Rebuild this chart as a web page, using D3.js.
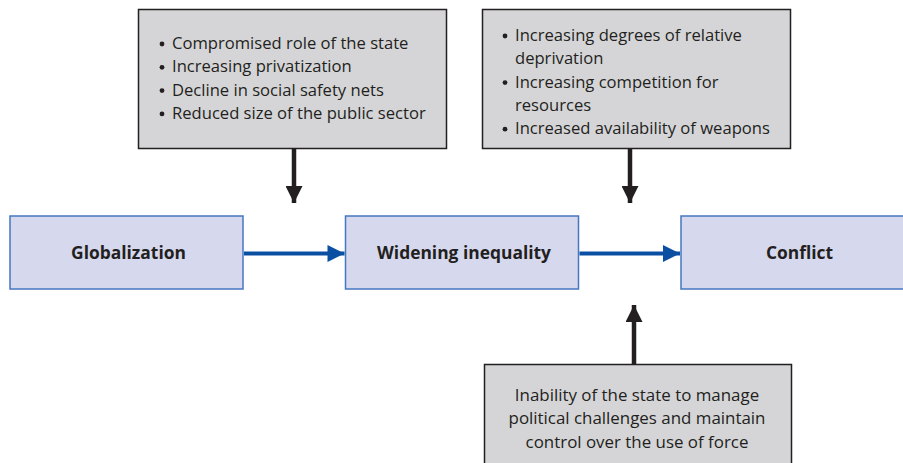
<!DOCTYPE html>
<html><head><meta charset="utf-8">
<script src="https://cdn.jsdelivr.net/npm/d3@7"></script>
<style>body{margin:0;background:#fff;} svg{display:block;}</style>
</head><body>
<svg id="c" width="903" height="463"></svg>
<script>
// ---- data ----
const mainNodes = ["Globalization", "Widening inequality", "Conflict"];
const topLeftItems = [["Compromised role of the state"], ["Increasing privatization"], ["Decline in social safety nets"], ["Reduced size of the public sector"]];
const topRightItems = [["Increasing degrees of relative", "deprivation"], ["Increasing competition for", "resources"], ["Increased availability of weapons"]];
const bottomLines = ["Inability of the state to manage", "political challenges and maintain", "control over the use of force"];

const svg = d3.select("#c");
const FONT = "'Open Sans', 'Noto Sans', sans-serif";
const TXT = "#231f20";
const FS = 16.6;
const defs = svg.append("defs");
function marker(id, color) {
  defs.append("marker").attr("id", id).attr("viewBox", "0 0 10 10")
    .attr("refX", 10).attr("refY", 5).attr("markerUnits", "userSpaceOnUse")
    .attr("markerWidth", 21).attr("markerHeight", 17).attr("orient", "auto")
    .append("path").attr("d", "M0,0L10,5L0,10Z").attr("fill", color);
}
marker("ab", "#0b4fa2");
marker("ak", "#231f20");

// main nodes
const x = d3.scalePoint().domain(mainNodes).range([126.5, 797.5]);
const bw = 233, by = 216, bh = 73;
const g = svg.append("g");
g.selectAll("rect").data(mainNodes).join("rect")
  .attr("x", d => x(d) - bw / 2).attr("y", by).attr("width", bw).attr("height", bh)
  .attr("fill", "#d6d8ee").attr("stroke", "#4577c0").attr("stroke-width", 1.5);
g.selectAll("text").data(mainNodes).join("text")
  .attr("x", d => x(d) + 2).attr("y", by + bh / 2 + 6.5).attr("text-anchor", "middle")
  .attr("font-family", FONT).attr("font-weight", "bold").attr("font-size", 17.4)
  .attr("fill", TXT).text(d => d);
// blue arrows
for (let i = 0; i < mainNodes.length - 1; i++) {
  svg.append("line")
    .attr("x1", x(mainNodes[i]) + bw / 2 + 1).attr("x2", x(mainNodes[i + 1]) - bw / 2 - 1)
    .attr("y1", by + bh / 2 + 1).attr("y2", by + bh / 2 + 1)
    .attr("stroke", "#0b4fa2").attr("stroke-width", 4).attr("marker-end", "url(#ab)");
}

function grayBox(x0, y0, w, h) {
  svg.append("rect").attr("x", x0).attr("y", y0).attr("width", w).attr("height", h)
    .attr("fill", "#d5d5d7").attr("stroke", "#231f20").attr("stroke-width", 1.5);
}
function bulletList(items, bx, tx, y0, lh) {
  let y = y0;
  items.forEach(item => {
    svg.append("circle").attr("cx", bx).attr("cy", y - 5).attr("r", 2.4).attr("fill", TXT);
    item.forEach(line => {
      svg.append("text").attr("x", tx).attr("y", y).attr("font-family", FONT)
        .attr("font-size", FS).attr("fill", TXT).text(line);
      y += lh;
    });
  });
}
grayBox(138.5, 9.5, 308, 139);
bulletList(topLeftItems, 162, 172, 49, 23.3);
grayBox(482.5, 9.5, 308, 139);
bulletList(topRightItems, 505, 515, 41, 23.3);
grayBox(484.5, 364.5, 307, 110);
svg.selectAll("text.b").data(bottomLines).join("text").attr("class", "b")
  .attr("x", 637).attr("y", (d, i) => 401 + i * 23.3).attr("text-anchor", "middle")
  .attr("font-family", FONT).attr("font-size", 16.9).attr("fill", TXT).text(d => d);

// black arrows
function karrow(x0, y1, y2) {
  svg.append("line").attr("x1", x0).attr("x2", x0).attr("y1", y1).attr("y2", y2)
    .attr("stroke", "#231f20").attr("stroke-width", 4.5).attr("marker-end", "url(#ak)");
}
karrow(294, 149, 203);
karrow(630, 149, 203);
karrow(634, 364, 305);
</script>
</body></html>
